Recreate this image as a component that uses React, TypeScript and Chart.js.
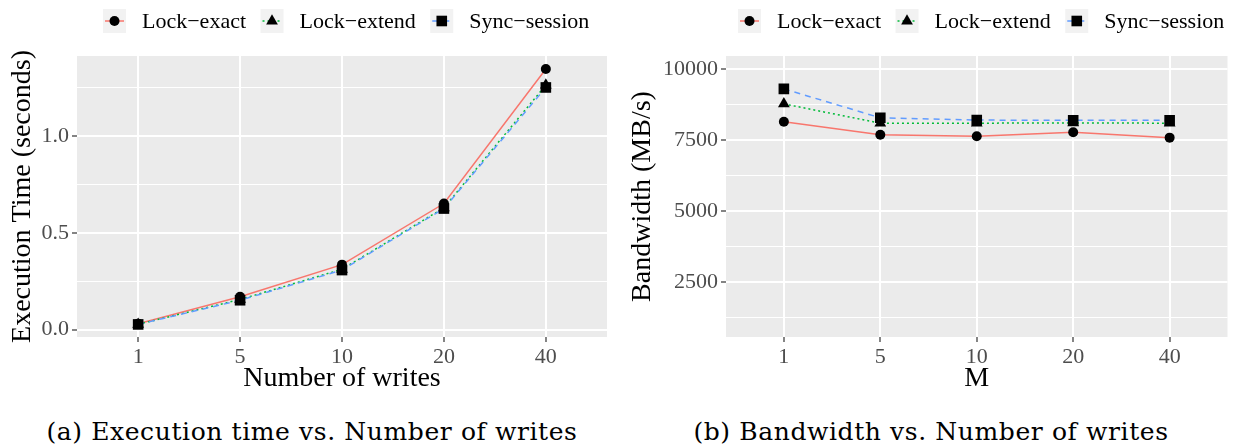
import React, { useEffect, useRef } from 'react';
import { Chart, registerables } from 'chart.js';
Chart.register(...registerables);

// ---------- data ----------
const categories = ['1', '5', '10', '20', '40'];
const seriesNames = ['Lock\u2212exact', 'Lock\u2212extend', 'Sync\u2212session'];

const timeLockExact = [0.031, 0.170, 0.336, 0.652, 1.347];
const timeLockExtend = [0.028, 0.156, 0.312, 0.630, 1.264];
const timeSyncSession = [0.027, 0.152, 0.308, 0.626, 1.252];

const bwLockExact = [8150, 7690, 7640, 7780, 7590];
const bwLockExtend = [8780, 8100, 8100, 8110, 8100];
const bwSyncSession = [9310, 8290, 8210, 8200, 8200];

const timeMajorTicks = [0, 0.5, 1.0];
const timeMinorTicks = [0.25, 0.75, 1.25];
const bwMajorTicks = [2500, 5000, 7500, 10000];
const bwMinorTicks = [1250, 3750, 6250, 8750];

// ---------- styles ----------
const COLORS = ['#F8766D', '#00BA38', '#619CFF'];
const DASHES: number[][] = [[], [2, 3], [6, 5]];
const SHAPES = ['circle', 'triangle', 'rect'];
const RADII = [5, 6.8, 7.5];
const SERIF = '"Liberation Serif", "Times New Roman", serif';

const panelBg = {
  id: 'panelBg',
  beforeDraw(chart: any) {
    const { ctx, chartArea: a } = chart;
    ctx.save();
    ctx.fillStyle = '#EBEBEB';
    ctx.fillRect(a.left, a.top, a.right - a.left, a.bottom - a.top);
    ctx.restore();
  },
};

function drawMarker(ctx: CanvasRenderingContext2D, shape: string, x: number, y: number, r: number) {
  ctx.beginPath();
  if (shape === 'circle') {
    ctx.arc(x, y, r, 0, Math.PI * 2);
  } else if (shape === 'triangle') {
    for (let k = 0; k < 3; k++) {
      const a = (k * 2 * Math.PI) / 3;
      const px = x + Math.sin(a) * r;
      const py = y - Math.cos(a) * r;
      if (k === 0) ctx.moveTo(px, py);
      else ctx.lineTo(px, py);
    }
    ctx.closePath();
  } else {
    const s = Math.SQRT1_2 * r;
    ctx.rect(x - s, y - s, 2 * s, 2 * s);
  }
  ctx.fill();
}

const ggLegend = {
  id: 'ggLegend',
  afterDraw(chart: any, _args: any, opts: any) {
    const ctx: CanvasRenderingContext2D = chart.ctx;
    const cy = opts.centerY;
    let x = opts.startX;
    ctx.save();
    ctx.font = `22px ${SERIF}`;
    seriesNames.forEach((name, i) => {
      ctx.fillStyle = '#F2F2F2';
      ctx.fillRect(x, cy - 12, 23, 24);
      ctx.strokeStyle = COLORS[i];
      ctx.lineWidth = 1.5;
      ctx.setLineDash(DASHES[i]);
      ctx.beginPath();
      ctx.moveTo(x + 2, cy);
      ctx.lineTo(x + 21, cy);
      ctx.stroke();
      ctx.setLineDash([]);
      ctx.fillStyle = '#000';
      drawMarker(ctx, SHAPES[i], x + 11.5, cy, RADII[i]);
      ctx.textBaseline = 'middle';
      ctx.textAlign = 'left';
      ctx.fillText(name, x + 39, cy + 1);
      const w = ctx.measureText(name).width;
      x = x + 39 + w + 14.5;
    });
    ctx.restore();
  },
};

function buildConfig(opts: {
  series: number[][];
  yMin: number;
  yMax: number;
  majors: number[];
  minors: number[];
  fmt: (v: number) => string;
  yTitle: string;
  xTitle: string;
  yWidth: number;
  padRight: number;
  legendX: number;
  yTitlePad: number;
}) {
  const lineSets = opts.series.map((vals, i) => ({
    label: seriesNames[i] + ' line',
    data: vals.map((v, k) => ({ x: k, y: v })),
    borderColor: COLORS[i],
    borderWidth: 1.5,
    borderDash: DASHES[i],
    pointRadius: 0,
    tension: 0,
    fill: false,
    order: 20 - i,
  }));
  const pointSets = opts.series.map((vals, i) => ({
    label: seriesNames[i],
    data: vals.map((v, k) => ({ x: k, y: v })),
    showLine: false,
    pointStyle: SHAPES[i],
    pointRadius: RADII[i],
    pointBackgroundColor: '#000000',
    pointBorderWidth: 0,
    borderColor: '#000000',
    order: 5 - i,
  }));
  const isMajor = (v: number) => opts.majors.some((m) => Math.abs(m - v) < 1e-9);
  return {
    type: 'line' as const,
    data: { datasets: [...lineSets, ...pointSets] },
    plugins: [panelBg, ggLegend],
    options: {
      animation: false,
      responsive: false,
      maintainAspectRatio: false,
      layout: { padding: { top: 56, right: opts.padRight, left: 0, bottom: 0 } },
      plugins: {
        legend: { display: false },
        tooltip: { enabled: false },
        ggLegend: { startX: opts.legendX, centerY: 21 },
      },
      scales: {
        x: {
          type: 'linear',
          min: -0.6,
          max: categories.length - 1 + 0.6,
          afterBuildTicks: (s: any) => {
            s.ticks = categories.map((_, i) => ({ value: i }));
          },
          afterFit: (s: any) => {
            s.height = 63;
          },
          border: { display: false },
          grid: {
            color: '#FFFFFF',
            lineWidth: 2,
            tickColor: '#333333',
            tickLength: 5,
            tickWidth: 1.2,
          },
          ticks: {
            autoSkip: false,
            maxRotation: 0,
            padding: 2,
            color: '#4D4D4D',
            font: { family: SERIF, size: 22 },
            callback: (v: number) => categories[Math.round(v)] ?? '',
          },
          title: {
            display: true,
            text: opts.xTitle,
            color: '#000000',
            font: { family: SERIF, size: 28 },
            padding: { top: 0, bottom: 5 },
          },
        },
        y: {
          type: 'linear',
          min: opts.yMin,
          max: opts.yMax,
          afterBuildTicks: (s: any) => {
            s.ticks = [...opts.majors, ...opts.minors]
              .sort((a, b) => a - b)
              .map((v) => ({ value: v }));
          },
          afterFit: (s: any) => {
            s.width = opts.yWidth;
          },
          border: { display: false },
          grid: {
            color: '#FFFFFF',
            lineWidth: (c: any) => (c.tick && isMajor(c.tick.value) ? 2 : 1),
            tickColor: (c: any) => (c.tick && isMajor(c.tick.value) ? '#333333' : 'rgba(0,0,0,0)'),
            tickLength: 5,
            tickWidth: 1.2,
          },
          ticks: {
            autoSkip: false,
            padding: 3,
            color: '#4D4D4D',
            font: { family: SERIF, size: 22 },
            callback: (v: number) => (isMajor(v) ? opts.fmt(v) : ''),
          },
          title: {
            display: true,
            text: opts.yTitle,
            color: '#000000',
            font: { family: SERIF, size: 28 },
            padding: { top: opts.yTitlePad, bottom: 0 },
          },
        },
      },
    },
  };
}

function ChartCanvas({ config, left, width, height }: { config: any; left: number; width: number; height: number }) {
  const ref = useRef<HTMLCanvasElement | null>(null);
  useEffect(() => {
    if (!ref.current) return;
    const chart = new Chart(ref.current, config);
    return () => chart.destroy();
  }, []);
  return (
    <canvas
      ref={ref}
      width={width}
      height={height}
      style={{ position: 'absolute', left, top: 0, width, height }}
    />
  );
}

export default function App() {
  const leftConfig = buildConfig({
    series: [timeLockExact, timeLockExtend, timeSyncSession],
    yMin: -0.038,
    yMax: 1.4146,
    majors: timeMajorTicks,
    minors: timeMinorTicks,
    fmt: (v) => v.toFixed(1),
    yTitle: 'Execution Time (seconds)',
    xTitle: 'Number of writes',
    yWidth: 77,
    padRight: 10,
    legendX: 103,
    yTitlePad: 6,
  });
  const rightConfig = buildConfig({
    series: [bwLockExact, bwLockExtend, bwSyncSession],
    yMin: 558,
    yMax: 10470,
    majors: bwMajorTicks,
    minors: bwMinorTicks,
    fmt: (v) => String(v),
    yTitle: 'Bandwidth (MB/s)',
    xTitle: 'M',
    yWidth: 109,
    padRight: 5,
    legendX: 121,
    yTitlePad: 9,
  });
  const captionStyle: React.CSSProperties = {
    position: 'absolute',
    top: 417,
    height: 30,
    lineHeight: '30px',
    fontFamily: '"DejaVu Serif", serif',
    fontSize: 25,
    letterSpacing: '0.6px',
    color: '#000',
    textAlign: 'center',
    whiteSpace: 'nowrap',
  };
  return (
    <div style={{ position: 'absolute', left: 0, top: 0, width: 1235, height: 447, background: '#fff', overflow: 'hidden' }}>
      <ChartCanvas config={leftConfig} left={0} width={617} height={400} />
      <ChartCanvas config={rightConfig} left={617} width={618} height={400} />
      <div style={{ ...captionStyle, left: 12, width: 600 }}>(a) Execution time vs. Number of writes</div>
      <div style={{ ...captionStyle, left: 631, width: 600 }}>(b) Bandwidth vs. Number of writes</div>
    </div>
  );
}
